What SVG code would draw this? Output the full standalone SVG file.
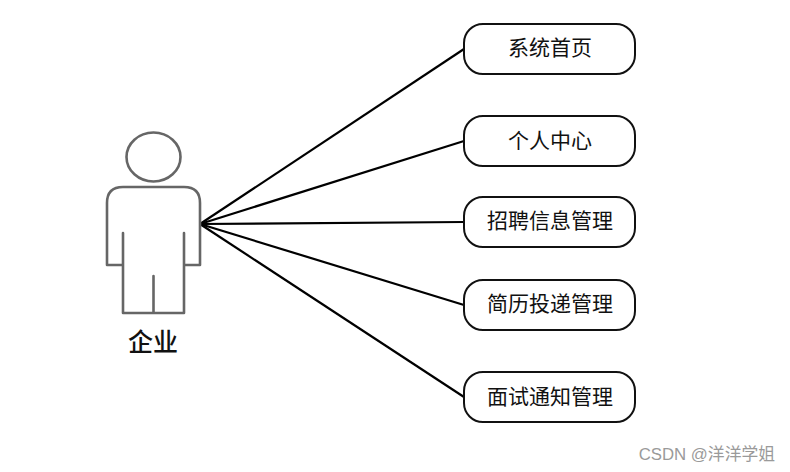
<svg xmlns="http://www.w3.org/2000/svg" width="790" height="472" viewBox="0 0 790 472">
<style>
.box{fill:#fff;stroke:#111;stroke-width:2}
.lbl{font-family:"Noto Sans CJK SC",sans-serif;font-size:21px;text-anchor:middle;fill:#111}
.con{stroke:#000;stroke-width:2.200;fill:none}
.act{fill:none;stroke:#666;stroke-width:2.600;stroke-linejoin:round;stroke-linecap:round}
</style>
<rect width="790" height="472" fill="#fff"/>
<g id="connectors">
<line class="con" x1="200" y1="224" x2="464" y2="49"/>
<line class="con" x1="200" y1="224" x2="464" y2="141"/>
<line class="con" x1="200" y1="224" x2="464" y2="222"/>
<line class="con" x1="200" y1="224" x2="464" y2="305"/>
<line class="con" x1="200" y1="224" x2="464" y2="397"/>
</g>
<g id="actor">
<ellipse class="act" cx="153.500" cy="157" rx="27" ry="24.500"/>
<path class="act" d="M123 187H184Q200 187 200 203V265H184M123 187Q107 187 107 203V265H123M123 233V313H184V233M153.500 276V313"/>
<text x="153" y="351" style="font-family:'Noto Sans CJK SC',sans-serif;font-size:25px;font-weight:500;text-anchor:middle;fill:#111">企业</text>
</g>
<g id="n1"><rect class="box" x="464" y="24" width="171" height="50" rx="19"/><text class="lbl" x="550" y="55">系统首页</text></g>
<g id="n2"><rect class="box" x="464" y="116" width="171" height="50" rx="19"/><text class="lbl" x="550" y="148">个人中心</text></g>
<g id="n3"><rect class="box" x="464" y="197" width="171" height="50" rx="19"/><text class="lbl" x="550" y="228">招聘信息管理</text></g>
<g id="n4"><rect class="box" x="464" y="280" width="171" height="50" rx="19"/><text class="lbl" x="550" y="311">简历投递管理</text></g>
<g id="n5"><rect class="box" x="464" y="372" width="171" height="50" rx="19"/><text class="lbl" x="550" y="404">面试通知管理</text></g>
<text x="775" y="460" style="font-family:'Liberation Sans','Noto Sans CJK SC',sans-serif;font-size:16.800px;text-anchor:end;fill:#9a9a9a">CSDN @洋洋学姐</text>
</svg>
